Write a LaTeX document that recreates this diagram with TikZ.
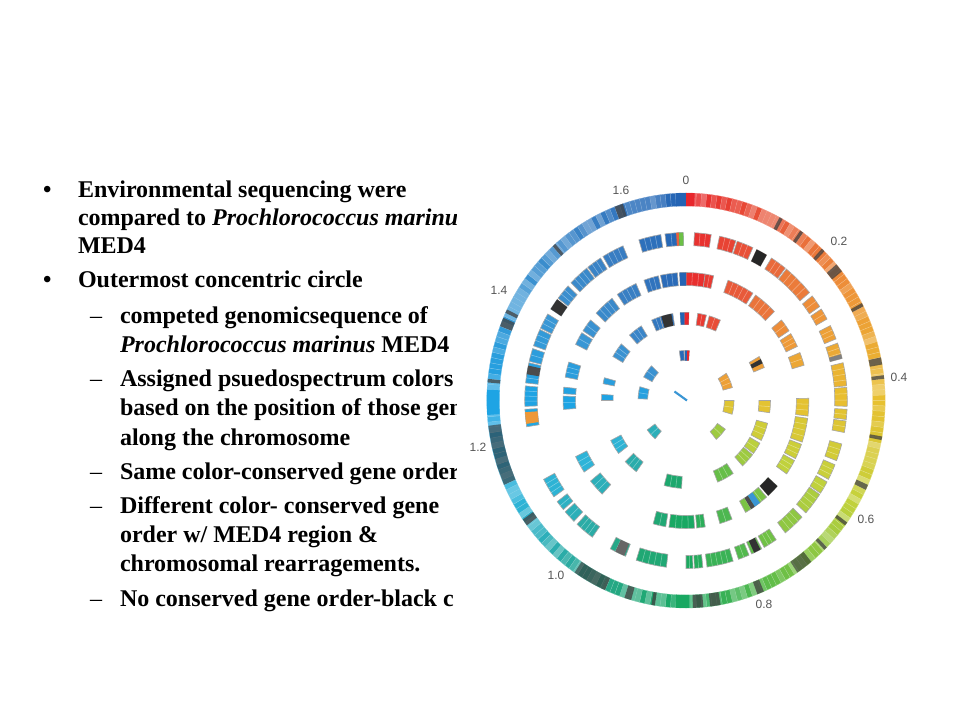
\documentclass[tikz,border=0pt]{standalone}
\usepackage{fontspec}
\setmainfont{Liberation Serif}
\newfontfamily\labelfont{Liberation Sans}
\definecolor{c0}{HTML}{E8262C}
\definecolor{c1}{HTML}{E8603C}
\definecolor{c2}{HTML}{EE9838}
\definecolor{c3}{HTML}{E8C030}
\definecolor{c4}{HTML}{C4D23C}
\definecolor{c5}{HTML}{6CC046}
\definecolor{c6}{HTML}{18A860}
\definecolor{c7}{HTML}{2AA890}
\definecolor{c8}{HTML}{2EB4D8}
\definecolor{c9}{HTML}{1EA4E4}
\definecolor{c10}{HTML}{3A96D4}
\definecolor{c11}{HTML}{3A80C4}
\definecolor{c12}{HTML}{2464B4}
\definecolor{labelgrey}{HTML}{555555}
\tikzset{
  txt/.style={anchor=base west,inner sep=0pt,outer sep=0pt,font=\fontsize{18}{20}\selectfont\bfseries},
  dashmark/.style={anchor=base west,inner sep=0pt,outer sep=0pt,font=\fontsize{18}{20}\selectfont},
  maplabel/.style={inner sep=0pt,text=labelgrey,font=\labelfont\fontsize{9}{10}\selectfont},
  edge/.style={draw=gray!70,line width=.45pt},
}
\newcommand\gband[5]{%
  \pgfmathsetmacro\bA{90-(#3)}\pgfmathsetmacro\bB{90-(#4)}%
  \pgfmathsetmacro\bC{\bA+(\bB-\bA)/3}\pgfmathsetmacro\bD{\bA+2*(\bB-\bA)/3}%
  \path[#5] (\bA:#1) -- (\bC:#1) -- (\bD:#1) -- (\bB:#1) -- (\bB:#2) -- (\bD:#2) -- (\bC:#2) -- (\bA:#2) -- cycle;}
\newcommand\specol[2]{%
  \pgfmathsetmacro\mA{mod(mod(((#1)+(#2))/2,360)+360,360)}%
  \pgfmathtruncatemacro\iA{int(\mA/30)}%
  \pgfmathtruncatemacro\iB{\iA+1}%
  \pgfmathtruncatemacro\pA{100-(\mA-30*\iA)*100/30}%
  \colorlet{segc}{c\iA!\pA!c\iB}}
\newcommand\ggene[4]{\specol{#3}{#4}\gband{#1}{#2}{#3}{#4}{fill=segc,edge}%
  \pgfmathtruncatemacro\nS{int(((#4)-(#3))*(#1)/360)}%
  \ifnum\nS>0
    \foreach \k in {1,...,\nS}{%
      \pgfmathsetmacro\sS{90-(#3)-\k*((#4)-(#3))/(\nS+1)}%
      \draw[white,opacity=.4,line width=.4pt] (\sS:#1) -- (\sS:#2);}%
  \fi}
\newcommand\gover[5]{\gband{#1}{#2}{#3}{#4}{fill=#5}}
\begin{document}
\begin{tikzpicture}[x=.75pt,y=-.75pt]
\useasboundingbox (0,0) rectangle (960,720);
\fill[white] (0,0) rectangle (960,720);
\begin{scope}
\clip (0,0) rectangle (456,720);
\node[txt] (b1) at (43,198) {•};
\node[txt] (t1) at (78,198) {Environmental sequencing were};
\node[txt] (t2) at (78,226) {compared to \textit{Prochlorococcus marinu}};
\node[txt] (t3) at (78,254) {MED4};
\node[txt] (b2) at (43,287) {•};
\node[txt] (t4) at (78,287) {Outermost concentric circle};
\node[dashmark] (d1) at (90,324) {–};
\node[txt] (t5) at (120,324) {competed genomicsequence of};
\node[txt] (t6) at (120,352) {\textit{Prochlorococcus marinus} MED4};
\node[dashmark] (d2) at (90,386) {–};
\node[txt] (t7) at (120,386) {Assigned psuedospectrum colors};
\node[txt] (t8) at (120,415) {based on the position of those gen};
\node[txt] (t9) at (120,445) {along the chromosome};
\node[dashmark] (d3) at (90,479) {–};
\node[txt] (t10) at (120,479) {Same color-conserved gene order};
\node[dashmark] (d4) at (90,513) {–};
\node[txt] (t11) at (120,513) {Different color- conserved gene};
\node[txt] (t12) at (120,542) {order w/ MED4 region \&};
\node[txt] (t13) at (120,571) {chromosomal rearragements.};
\node[dashmark] (d5) at (90,606) {–};
\node[txt] (t14) at (120,606) {No conserved gene order-black c};
\end{scope}
\node[maplabel] (l0) at (686,180) {0};
\node[maplabel] (l1) at (621,190) {1.6};
\node[maplabel] (l2) at (839,241) {0.2};
\node[maplabel] (l3) at (899,377) {0.4};
\node[maplabel] (l4) at (866,519) {0.6};
\node[maplabel] (l5) at (764,604) {0.8};
\node[maplabel] (l6) at (556,575) {1.0};
\node[maplabel] (l7) at (478,447) {1.2};
\node[maplabel] (l8) at (499,290) {1.4};
\begin{scope}[shift={(686,400.5)},x=.72pt,y=.75pt]
% outer ring
\pgfmathsetseed{11}
\foreach \t in {0,1.5,...,358.5}{
  \pgfmathsetmacro\tE{\t+1.5}
  \specol{\t}{\tE}
  \pgfmathrnd\pgfmathtruncatemacro\lt{100-int(\pgfmathresult*3)*14}
  \colorlet{segd}{segc!\lt!white}
  \gband{194.5}{207.5}{\t}{\tE}{fill=segd,draw=segc!60!white,line width=.2pt}
}
\foreach \a/\b in {28/29,35/36,43/44,49/51.5,62/63,78/80,83/84,100/101,114/115.5,126/127,135/136,157/159,170/173,175/178,189/190,196/198,204/205,233/235,275/276,291/293.5,295/296,318/319,339/341.5}{
  \gband{194.5}{207.5}{\a}{\b}{fill=black!75,opacity=.75}
}
\foreach \a/\b in {141/146,205/214,246/263}{
  \gband{194.5}{207.5}{\a}{\b}{fill=black!80,opacity=.6}
}
\foreach \a/\b in {266/273,179/183}{\specol{\a}{\b}\gover{194.5}{207.5}{\a}{\b}{segc}}
\gover{194.5}{207.5}{357}{360}{c12}
\gover{194.5}{207.5}{0}{2.5}{c0}
% ring 2
\foreach \a/\b in {-17/-9,-7.5/-1,3/9,12/18,18.5/24.5,26/30,32/38,38.5/50,51.5/56,57/61,63.5/68.5,70/75.5,77/85,85.5/92,93/96.5,97/101,105/111,112.5/118,119/123.5,124/132,134/142,146/151,152/156,157/161,163/172.5,174/177,177.5/180,187/198,202/208,215.5/222.5,224/228.5,229.5/233,235/242,261/267,268/275,276/283,283.5/288,289/295,295.5/301,303/307,307.5/313,314.5/322,322.5/328,329/337}{
  \ggene{155}{168}{\a}{\b}
}
\gover{155}{168}{26}{30}{black!85}
\gover{155}{168}{-3.5}{-2.5}{c1}
\gover{155}{168}{-2.5}{-1}{c5}
\gover{155}{168}{303}{307}{black!80}
\gover{155}{168}{279}{282}{black!70}
\gover{155}{168}{202.5}{206}{black!60}
\gover{155}{168}{152.5}{155}{black!80}
\gover{155}{168}{74}{75.5}{black!50}
\gover{155}{168}{262}{266}{c2}
% ring 3
\foreach \a/\b in {-20/-13,-12/-4,-3/0,0/9,9/13,20/33,34.5/46,51/57,58.5/65,68/74,89/97,98/109,110/117,118/125,132/138,139/151,158/164,171/175,176/188,189.5/195.5,236/244,223/231,266/272,273/276,280.5/287.5,296/302,303/309,313/323,326/336}{
  \ggene{115}{128}{\a}{\b}
}
\gover{115}{128}{-3}{0}{c12}
\gover{115}{128}{132}{138}{black!85}
\gover{115}{128}{143}{146}{c10}
\gover{115}{128}{146}{148}{black!70}
% ring 4
\foreach \a/\b in {-4/-1,-1/2,8/14,16/24,60/68,90/98,105/117,119/127,128/138,146/158,183/195,216/226,233/243,270/274,281/285,300/310,318/328,336/342,342/351}{
  \ggene{76}{88}{\a}{\b}
}
\gover{76}{88}{-4}{-1}{c12}
\gover{76}{88}{-1}{2}{c0}
\gover{76}{88}{-17}{-10}{black!80}
\gover{76}{88}{62}{65}{black!80}
% ring 5
\foreach \a/\b in {57/75,90/106,125/141,220/234,272/286,298/314,-8/-2.5,-1.5/4}{
  \ggene{40}{50}{\a}{\b}
}
\gover{40}{50}{-1.5}{1.5}{c12}
\gover{40}{50}{1.5}{4}{c0}
% central tick
\coordinate (tickA) at (-12,9);
\coordinate (tickB) at (1,0);
\draw[c10,line width=1.6pt] (tickA) -- (tickB);
\end{scope}
\end{tikzpicture}
\end{document}
